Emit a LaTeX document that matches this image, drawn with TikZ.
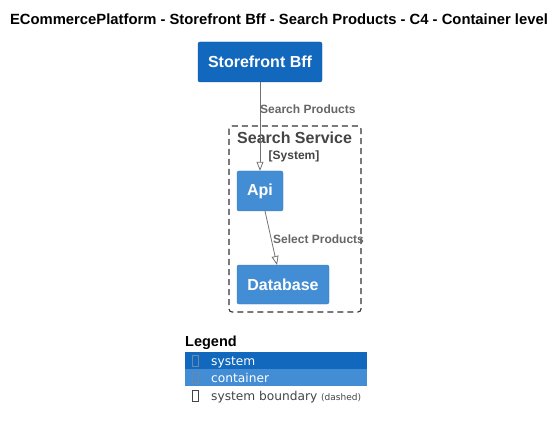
\documentclass[tikz,border=0pt]{standalone}
\usepackage{fontspec}
\setmainfont{Liberation Sans}
\newfontfamily\legfont{DejaVu Sans}
\usetikzlibrary{arrows.meta}
\definecolor{sysblue}{HTML}{1168BD}
\definecolor{conblue}{HTML}{438DD5}
\definecolor{relgray}{HTML}{707070}
\definecolor{lblgray}{HTML}{666666}
\definecolor{bndgray}{HTML}{444444}
\tikzset{
  sysbox/.style={draw=sysblue!85!black, fill=sysblue, rounded corners=2pt, text=white, font=\fontsize{16}{19}\selectfont\bfseries, inner sep=0pt},
  conbox/.style={draw=conblue!85!black, fill=conblue, rounded corners=2pt, text=white, font=\fontsize{16}{19}\selectfont\bfseries, inner sep=0pt},
  rel/.style={draw=relgray, line width=0.8pt, -{Triangle[open, length=9pt, width=7pt]}},
  rellbl/.style={text=lblgray, font=\fontsize{12}{14}\selectfont\bfseries, inner sep=0pt, anchor=west},
  legtxt/.style={font=\legfont\fontsize{12.2}{14}\selectfont, inner sep=0pt, anchor=base west},
  glyph/.style={draw, line width=0.6pt, minimum width=6pt, minimum height=11pt, inner sep=0pt}
}
\begin{document}
\begin{tikzpicture}[x=1pt,y=-1pt]
\useasboundingbox (0,0) rectangle (559,430);
\node[font=\fontsize{14.8}{17}\selectfont\bfseries, inner sep=0pt] (title) at (279,19) {ECommercePlatform - Storefront Bff - Search Products - C4 - Container level};
% boundary
\draw[black!80, dash pattern=on 6pt off 4pt, line width=1.1pt, rounded corners=3pt] (229,126) rectangle (361,312);
\node[text=bndgray, font=\fontsize{16}{19}\selectfont\bfseries, inner sep=0pt, anchor=west] (bndtitle) at (237,138) {Search Service};
\node[text=bndgray, font=\fontsize{12}{14}\selectfont\bfseries, inner sep=0pt] (bndtype) at (294,156) {[System]};
% nodes
\node[sysbox, minimum width=124pt, minimum height=40pt] (bff) at (260,62) {Storefront Bff};
\node[conbox, minimum width=46pt, minimum height=40pt] (api) at (260,191) {Api};
\node[conbox, minimum width=92pt, minimum height=39pt] (db) at (283,284.5) {Database};
% relations
\draw[rel] (bff.south) -- (api.north);
\node[rellbl] (l1) at (260,109) {Search Products};
\coordinate (apiout) at (265,211);
\coordinate (dbin) at (277,265);
\draw[rel] (apiout) -- (dbin);
\node[rellbl] (l2) at (273,239) {Select Products};
% legend
\node[font=\fontsize{14.5}{17}\selectfont\bfseries, inner sep=0pt, anchor=west] (legend) at (185,343) {Legend};
\fill[sysblue] (185,352) rectangle (367,369);
\fill[conblue] (185,369) rectangle (367,386);
\node[glyph, draw=sysblue!60!black!60!white] (g1) at (195,361) {};
\node[glyph, draw=conblue!60!black!70!white] (g2) at (195,378) {};
\node[glyph, draw=bndgray] (g3) at (195,396) {};
\node[legtxt, text=white] (t1) at (211,365.5) {system};
\node[legtxt, text=white] (t2) at (211,382.5) {container};
\node[legtxt, text=bndgray] (t3) at (211,400.5) {system boundary {\fontsize{9}{10}\selectfont (dashed)}};
\end{tikzpicture}
\end{document}
